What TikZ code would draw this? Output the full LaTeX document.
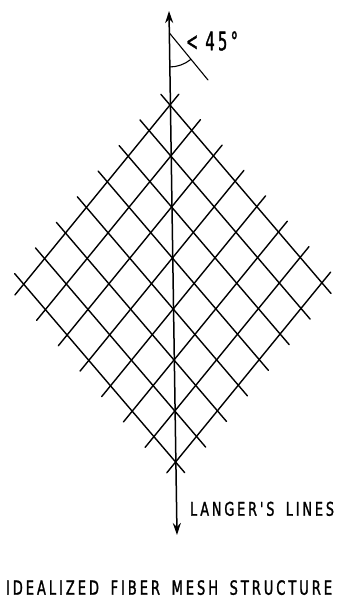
\documentclass[tikz,border=0pt]{standalone}
\usepackage{fontspec}
\newfontfamily\lett[FakeStretch=0.62,LetterSpace=14,FakeBold=1.2]{DejaVu Sans}
\usetikzlibrary{arrows.meta,calc}
\newcommand{\wsp}{\hspace{0.55em}}
\begin{document}
\begin{tikzpicture}[x=1pt,y=-1pt,
  mesh/.style={line width=1.4pt,line cap=round},
  axis/.style={line width=1.5pt},
  thin/.style={line width=1.1pt,line cap=round},
  lbl/.style={inner sep=0pt,outer sep=0pt}]
\useasboundingbox (0,0) rectangle (340,601);
% lattice
\coordinate (T) at (170,105);
\coordinate (u) at (21.7,25.4);
\coordinate (v) at (-20.9,25.6);
\foreach \j in {0,...,7}{
  \draw[mesh] ($(T)+\j*(v)-0.42*(u)$) -- ($(T)+\j*(v)+7.42*(u)$);
  \draw[mesh] ($(T)+\j*(u)-0.42*(v)$) -- ($(T)+\j*(u)+7.42*(v)$);
}
% axis (Langer's lines)
\coordinate (top) at (169,11);
\coordinate (bot) at (177,535);
\draw[axis,{Stealth[length=12pt,width=8pt]}-{Stealth[length=12pt,width=8pt]}] (bot) -- (top);
% angle annotation
\coordinate (A) at (169.4,33);
\coordinate (E) at (208,80);
\draw[thin] (A) -- (E);
\draw[thin] (A) ++(0,34) arc[start angle=90,end angle=51,radius=34];
\node[lbl,anchor=west] (ang) at (186,41) {\resizebox{52pt}{19pt}{\lett <\hspace{0.3em}45°}};
% labels
\node[lbl,anchor=south west] (langer) at (190,516) {\resizebox{144pt}{14pt}{\lett LANGER'S\wsp LINES}};
\node[lbl,anchor=south west] (title) at (6,595) {\resizebox{326pt}{14.5pt}{\lett IDEALIZED\wsp FIBER\wsp MESH\wsp STRUCTURE}};
\end{tikzpicture}
\end{document}
